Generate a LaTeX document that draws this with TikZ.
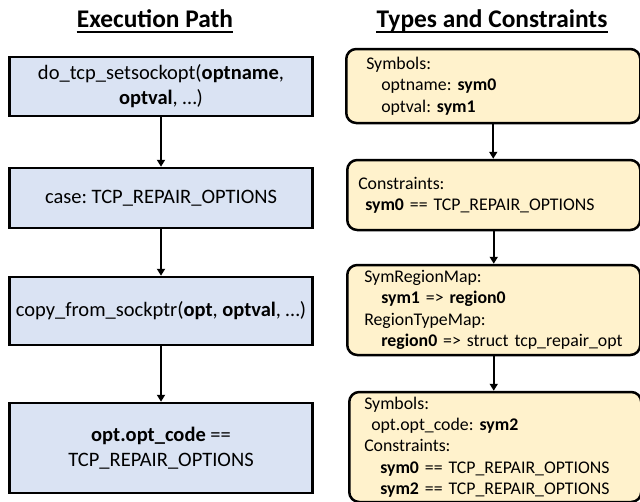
\documentclass[tikz,border=0pt]{standalone}
\usepackage{fontspec}
\setmainfont{Carlito}
\usetikzlibrary{arrows.meta,positioning}
\frenchspacing

\definecolor{pathblue}{HTML}{DAE3F3}
\definecolor{typeyellow}{HTML}{FFF2CC}

\begin{document}
\begin{tikzpicture}[x=1pt,y=-1pt,
    heading/.style={inner sep=0pt,anchor=base,font=\fontsize{25.4}{30}\selectfont\bfseries},
    pathbox/.style={rectangle,draw,line width=2.5pt,fill=pathblue,minimum width=303pt,align=center,font=\fontsize{20.5}{25}\selectfont},
    typebox/.style={rectangle,rounded corners=10pt,draw,line width=2.5pt,fill=typeyellow,anchor=west,inner xsep=0pt,align=left,font=\fontsize{17.8}{21.3}\selectfont},
    flow/.style={-{Triangle[length=7pt,width=8pt]},line width=2pt}
]
\useasboundingbox (0,0) rectangle (640,501);

% === Titles ===
\node[heading] (exectitle) at (155,27) {Execution Path};
\node[heading] (typetitle) at (492,27) {Types and Constraints};
\draw[line width=1.8pt] ([yshift=-5pt]exectitle.base west) -- ([yshift=-5pt]exectitle.base east);
\draw[line width=1.8pt] ([yshift=-5pt]typetitle.base west) -- ([yshift=-5pt]typetitle.base east);

% === Execution path (left) ===
\node[pathbox,minimum height=59pt] (setsock) at (161,86.5) {do\_tcp\_setsockopt(\textbf{optname},\\ \textbf{optval}, …)};
\node[pathbox,minimum height=60pt] (repcase) at (161,198) {case: TCP\_REPAIR\_OPTIONS};
\node[pathbox,minimum height=68pt] (copyopt) at (161,311) {copy\_from\_sockptr(\textbf{opt}, \textbf{optval}, …)};
\node[pathbox,minimum height=90pt] (optcode) at (161,448) {\textbf{opt.opt\_code} ==\\ TCP\_REPAIR\_OPTIONS};

\draw[flow] (setsock) -- (repcase);
\draw[flow] (repcase) -- (copyopt);
\draw[flow] (copyopt) -- (optcode);

% === Types and constraints (right) ===
\node[typebox,text width=294pt,minimum height=74pt] (symA) at (345,86) {%
    \hspace*{20pt}Symbols:\\
    \hspace*{35pt}optname: \textbf{sym0}\\
    \hspace*{35pt}optval: \textbf{sym1}};
\node[typebox,text width=293pt,minimum height=70pt] (consA) at (346,195) {%
    \hspace*{11pt}Constraints:\\
    \hspace*{18pt}\textbf{sym0} == TCP\_REPAIR\_OPTIONS};
\node[typebox,text width=293pt,minimum height=90pt] (regmap) at (346,310) {%
    \hspace*{17pt}SymRegionMap:\\
    \hspace*{34pt}\textbf{sym1} => \textbf{region0}\\
    \hspace*{17pt}RegionTypeMap:\\
    \hspace*{34pt}\textbf{region0} => struct tcp\_repair\_opt};
\node[typebox,text width=292pt,minimum height=110pt] (symB) at (348,447) {%
    \hspace*{15pt}Symbols:\\
    \hspace*{22pt}opt.opt\_code: \textbf{sym2}\\
    \hspace*{15pt}Constraints:\\
    \hspace*{31pt}\textbf{sym0} == TCP\_REPAIR\_OPTIONS\\
    \hspace*{31pt}\textbf{sym2} == TCP\_REPAIR\_OPTIONS};

\draw[flow] (symA.south) -- (symA.south |- consA.north);
\draw[flow] (consA.south) -- (consA.south |- regmap.north);
\draw[flow] (regmap.south) -- (regmap.south |- symB.north);

\end{tikzpicture}
\end{document}
